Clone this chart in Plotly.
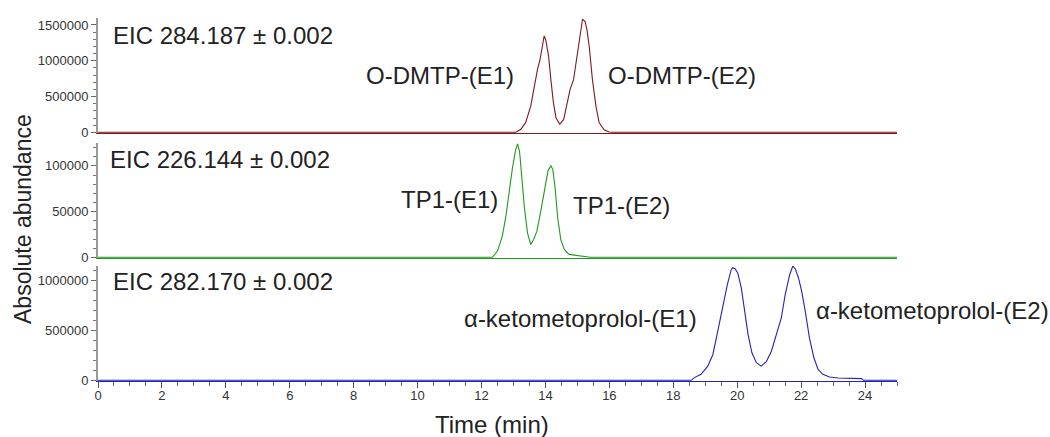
import plotly.graph_objects as go
from plotly.subplots import make_subplots

# ---------------- data ----------------
# EIC 284.187 (O-DMTP)
t_odmtp = [0.0, 13.07, 13.23, 13.38, 13.54, 13.65, 13.75, 13.83, 13.91, 13.96, 14.01, 14.10, 14.17,
           14.25, 14.33, 14.45, 14.57, 14.67, 14.77, 14.88, 14.98, 15.09, 15.16, 15.24, 15.30,
           15.37, 15.47, 15.58, 15.68, 15.84, 16.00, 16.10, 25.0]
i_odmtp = [0, 0, 42000, 135000, 365000, 643000, 875000, 1014000, 1245000, 1347000, 1290000, 1060000,
           736000, 412000, 204000, 111000, 180000, 412000, 597000, 736000, 1060000, 1430000, 1580000,
           1546000, 1430000, 1199000, 736000, 365000, 135000, 32000, 4000, 0, 0]

# EIC 226.144 (TP1)
t_tp1 = [0.0, 12.34, 12.50, 12.65, 12.76, 12.86, 12.97, 13.07, 13.13, 13.19, 13.25, 13.34, 13.44,
         13.54, 13.63, 13.73, 13.86, 13.98, 14.08, 14.17, 14.23, 14.30, 14.38, 14.48, 14.59,
         14.74, 15.01, 15.20, 15.40, 25.0]
i_tp1 = [0, 0, 6800, 22900, 44400, 73100, 98200, 118000, 124000, 116000, 91000, 55200, 26500,
         14000, 19400, 28300, 51600, 76700, 94600, 100000, 96500, 76700, 44400, 19400, 8600,
         3200, 2000, 1000, 0, 0]

# EIC 282.170 (alpha-ketometoprolol)
t_keto = [0.0, 18.56, 18.66, 18.87, 19.08, 19.24, 19.39, 19.55, 19.69, 19.81, 19.86, 19.94, 20.02,
          20.13, 20.23, 20.34, 20.46, 20.60, 20.75, 20.91, 21.07, 21.22, 21.38, 21.50, 21.64,
          21.74, 21.82, 21.92, 22.02, 22.13, 22.26, 22.40, 22.53, 22.68, 22.89, 23.16, 23.57,
          23.89, 23.95, 25.0]
i_keto = [0, 0, 27000, 60000, 143000, 260000, 493000, 760000, 960000, 1110000, 1133000, 1120000,
          1077000, 927000, 693000, 460000, 277000, 177000, 143000, 187000, 293000, 460000, 627000,
          860000, 1060000, 1150000, 1120000, 1027000, 893000, 693000, 427000, 227000, 110000,
          60000, 33000, 23000, 20000, 17000, 0, 0]

eic_labels = ["EIC 284.187 ± 0.002", "EIC 226.144 ± 0.002", "EIC 282.170 ± 0.002"]
peak_labels = ["O-DMTP-(E1)", "O-DMTP-(E2)", "TP1-(E1)", "TP1-(E2)",
               "α-ketometoprolol-(E1)", "α-ketometoprolol-(E2)"]
x_ticks = list(range(0, 25, 2))

# ---------------- figure ----------------
W, H = 1050, 437
L, R, T, B = 98, 897, 18, 381   # plot area in pixels

def px(x):
    return (x - L) / (R - L)

def py(y):
    return (B - y) / (B - T)

fig = make_subplots(rows=3, cols=1, shared_xaxes=True)

colors = ["#7a1c1c", "#1f9a1f", "#2323b4"]
series = [(t_odmtp, i_odmtp), (t_tp1, i_tp1), (t_keto, i_keto)]
for k, (t, v) in enumerate(series):
    fig.add_trace(go.Scatter(x=t, y=v, mode="lines", line=dict(color=colors[k], width=1.1),
                             showlegend=False, hoverinfo="skip"), row=k + 1, col=1)

font_fam = "Liberation Sans, Arial, sans-serif"
txt_col = "#222222"

domains = [[py(133), 1.0], [py(258), py(143)], [0.0, py(266)]]
yranges = [1.597e6, 125000, 1.15e6]
ydt = [500000, 50000, 500000]
ymin = [100000, 10000, 100000]

for k in range(3):
    ya = "yaxis" if k == 0 else f"yaxis{k+1}"
    xa = "xaxis" if k == 0 else f"xaxis{k+1}"
    top = yranges[k]
    fig.layout[ya].update(
        domain=domains[k], range=[-0.006 * top, top], dtick=ydt[k], tick0=0,
        tickformat="d", showgrid=False, zeroline=False,
        showline=True, linecolor="#999999", linewidth=2,
        ticks="outside", ticklen=5, tickcolor="#666666", tickwidth=1,
        minor=dict(dtick=ymin[k], ticks="outside", ticklen=3, tickcolor="#777777", tickwidth=1),
        tickfont=dict(family=font_fam, size=13, color="#333333"),
    )
    fig.layout[xa].update(
        range=[0, 25], showgrid=False, zeroline=False,
        showline=True, linecolor=colors[k], linewidth=1,
    )
    if k < 2:
        fig.layout[xa].update(showticklabels=False, ticks="")
    else:
        fig.layout[xa].update(
            tickmode="array", tickvals=x_ticks, ticktext=[str(v) for v in x_ticks],
            ticks="outside", ticklen=6, tickcolor="#555555", tickwidth=1,
            ticklabelstandoff=-4,
            minor=dict(dtick=0.5, tick0=0, ticks="outside", ticklen=4, tickcolor="#666666"),
            tickfont=dict(family=font_fam, size=13, color="#333333"),
        )

ann = []
fs = 24
def add(text, x, y, xanchor="center", size=fs, angle=0):
    ann.append(dict(text=text, x=px(x), y=py(y), xref="paper", yref="paper",
                    xanchor=xanchor, yanchor="middle", showarrow=False, textangle=angle,
                    font=dict(family=font_fam, size=size, color=txt_col)))

add(eic_labels[0], 111, 35, xanchor="left")
add(eic_labels[1], 108, 159, xanchor="left")
add(eic_labels[2], 111, 281, xanchor="left")
add(peak_labels[0], 440, 75)
add(peak_labels[1], 682, 75)
add(peak_labels[2], 449, 199)
add(peak_labels[3], 621, 205)
add(peak_labels[4], 580, 318)
add(peak_labels[5], 932, 310)
add("Time (min)", 492, 424, size=24)
add("Absolute abundance", 23, 219, size=23, angle=-90)

fig.update_layout(
    width=W, height=H, paper_bgcolor="white", plot_bgcolor="white",
    margin=dict(l=L, r=W - R, t=T, b=H - B),
    annotations=ann,
)

fig.write_html("out.html", config={"displayModeBar": False},
               post_script="document.body.style.margin='0';document.body.style.overflow='hidden';")
